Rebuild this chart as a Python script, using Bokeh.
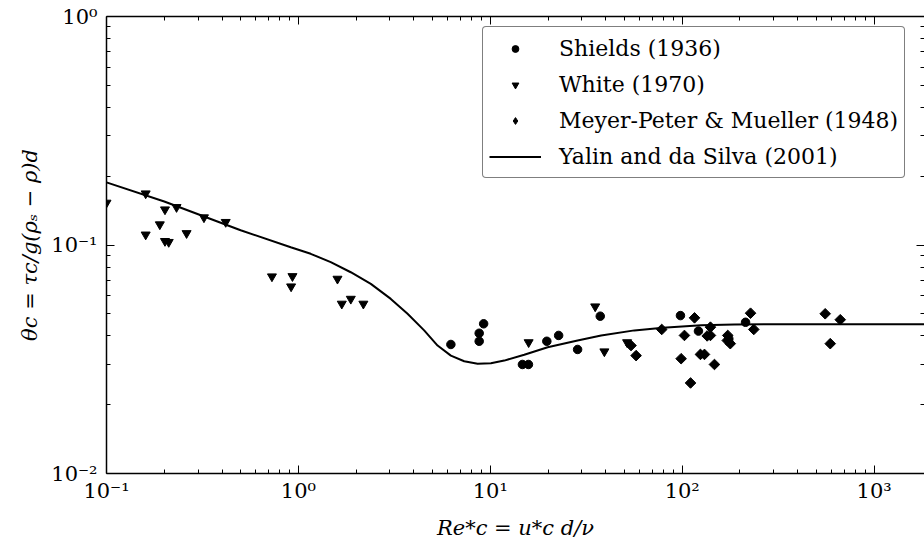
import numpy as np
from bokeh.plotting import figure
from bokeh.models import (LogAxis, FixedTicker, CustomJSTickFormatter, Legend, LegendItem, Range1d)
from bokeh.embed import file_html
from bokeh.resources import INLINE

# ---- data ----
shields_x = [6.23, 9.23, 8.75, 8.75, 14.7, 15.8, 19.7, 22.7, 28.5, 37.4, 97.9, 121.5, 174.9, 213.8]
shields_y = [0.0367, 0.0452, 0.0411, 0.0379, 0.0300, 0.0300, 0.0379, 0.0402, 0.0349, 0.0488, 0.0491, 0.0420, 0.0388, 0.0459]

white_x = [0.1, 0.160, 0.2017, 0.2317, 0.1896, 0.160, 0.2017, 0.211, 0.2614, 0.322, 0.418,
           0.728, 0.931, 0.916, 1.598, 1.875, 1.683, 2.18, 15.84, 35.2, 39.3, 51.6]
white_y = [0.153, 0.168, 0.143, 0.1464, 0.123, 0.111, 0.104, 0.103, 0.1126, 0.132, 0.126,
           0.0728, 0.0730, 0.0658, 0.0711, 0.0581, 0.0553, 0.0553, 0.0375, 0.0538, 0.0342, 0.0375]

mpm_x = [54.1, 57.5, 78.2, 115.9, 102.7, 140.3, 134.9, 140.3, 98.7, 124.4, 130.6, 147.2, 110.5,
         172.7, 171.7, 178.0, 227.0, 236.0, 555.9, 666.0, 590.7]
mpm_y = [0.0363, 0.0328, 0.0427, 0.0480, 0.0402, 0.0437, 0.0400, 0.0402, 0.0318, 0.0332, 0.0332, 0.0300, 0.0249,
         0.0402, 0.0382, 0.0370, 0.0503, 0.0427, 0.0500, 0.0471, 0.0370]

yalin_x = [0.1, 0.2, 0.31, 0.5, 0.912, 1.159, 1.474, 1.874, 2.384, 3.03, 3.704, 4.521, 5.311, 6.23,
           7.309, 8.587, 10.07, 11.82, 15.03, 19.9, 28.5, 37.8, 56.3, 79.3, 125.6, 187.0, 280.0,
           500.0, 1000.0, 2000.0]
yalin_y = [0.188, 0.155, 0.135, 0.116, 0.0978, 0.0915, 0.0841, 0.0760, 0.0676, 0.0581, 0.0500, 0.0423,
           0.0363, 0.0328, 0.0310, 0.0302, 0.0304, 0.0312, 0.0331, 0.0357, 0.0382, 0.0402, 0.0423,
           0.0434, 0.0445, 0.0449, 0.0450, 0.0450, 0.0450, 0.0450]

x_major = [0.1, 1, 10, 100, 1000]
y_major = [0.01, 0.1, 1]

SERIF = "DejaVu Serif"

x_minor = [m * d for d in [0.1, 1, 10, 100, 1000] for m in range(2, 10)]
y_minor = [m * d for d in [0.01, 0.1] for m in range(2, 10)]

p = figure(width=924, height=552, x_axis_type="log", y_axis_type="log",
           x_range=Range1d(0.1, 1830), y_range=Range1d(0.01, 1.0),
           output_backend="svg", toolbar_location=None,
           min_border_left=106, min_border_right=0, min_border_top=16, min_border_bottom=79)
p.background_fill_color = "white"
p.border_fill_color = "white"
p.outline_line_color = None
p.xgrid.visible = False
p.ygrid.visible = False

fmt = CustomJSTickFormatter(code="""
const sup = {'-':'\u207b','0':'\u2070','1':'\u00b9','2':'\u00b2','3':'\u00b3','4':'\u2074'};
const e = Math.round(Math.log10(tick));
return '10' + String(e).split('').map(c => sup[c]).join('');
""")
blank = CustomJSTickFormatter(code="return '';")

def style_axis(ax, ticks, minor, labels=True):
    ax.ticker = FixedTicker(ticks=ticks, minor_ticks=minor)
    ax.formatter = fmt if labels else blank
    ax.axis_line_color = "black"
    ax.axis_line_width = 1.5
    ax.major_tick_in = 8
    ax.major_tick_out = 0
    ax.minor_tick_in = 4
    ax.minor_tick_out = 0
    ax.major_tick_line_color = "black"
    ax.minor_tick_line_color = "black"
    ax.major_tick_line_width = 1
    ax.minor_tick_line_width = 1
    ax.major_label_text_font = SERIF
    ax.major_label_text_font_size = "21px"
    ax.major_label_text_color = "black"
    if not labels:
        ax.major_label_standoff = 0

xa = p.xaxis[0]
ya = p.yaxis[0]
style_axis(xa, x_major, x_minor)
style_axis(ya, y_major, y_minor)
xa.major_label_standoff = 5
ya.major_label_standoff = 9

xa.axis_label = "Re*c = u*c d/\u03bd"
ya.axis_label = "\u03b8c = \u03c4c/g(\u03c1\u209b \u2212 \u03c1)d"
for ax in (xa, ya):
    ax.axis_label_text_font = SERIF
    ax.axis_label_text_font_style = "italic"
    ax.axis_label_text_font_size = "21px"
    ax.axis_label_text_color = "black"
xa.axis_label_standoff = 10
ya.axis_label_standoff = 6

top = LogAxis()
style_axis(top, x_major, x_minor, labels=False)
p.add_layout(top, "above")
right = LogAxis()
style_axis(right, y_major, y_minor, labels=False)
right.axis_line_color = None
p.add_layout(right, "right")

r_line = p.line(yalin_x, yalin_y, line_color="black", line_width=2)
r_sh = p.scatter(shields_x, shields_y, marker="circle", size=8.5, fill_color="black", line_color="black")
r_wh = p.scatter(white_x, white_y, marker="inverted_triangle", size=9, fill_color="black", line_color="black")
r_mp = p.scatter(mpm_x, mpm_y, marker="square", angle=np.pi / 4, size=7.5, fill_color="black", line_color="black")
# legend stand-in for the diamond symbol (legend glyphs ignore the rotation angle); size 0 keeps it off the plot
r_mp_leg = p.scatter(mpm_x, mpm_y, marker="diamond", size=0, fill_color="black", line_color="black")

legend = Legend(items=[
    LegendItem(label="Shields (1936)", renderers=[r_sh]),
    LegendItem(label="White (1970)", renderers=[r_wh]),
    LegendItem(label="Meyer-Peter & Mueller (1948)", renderers=[r_mp_leg]),
    LegendItem(label="Yalin and da Silva (2001)", renderers=[r_line]),
], location=(376, 295))
legend.label_text_font = SERIF
legend.label_text_font_size = "22px"
legend.label_text_color = "black"
legend.glyph_width = 52
legend.glyph_height = 17
legend.label_height = 30
legend.spacing = 6
legend.padding = 6
legend.margin = 0
legend.label_standoff = 18
legend.border_line_color = "black"
legend.border_line_width = 1.5
legend.background_fill_alpha = 1.0
try:
    legend.border_radius = 4
except Exception:
    pass
p.add_layout(legend, "center")

open("out.html", "w").write(file_html(p, INLINE))
